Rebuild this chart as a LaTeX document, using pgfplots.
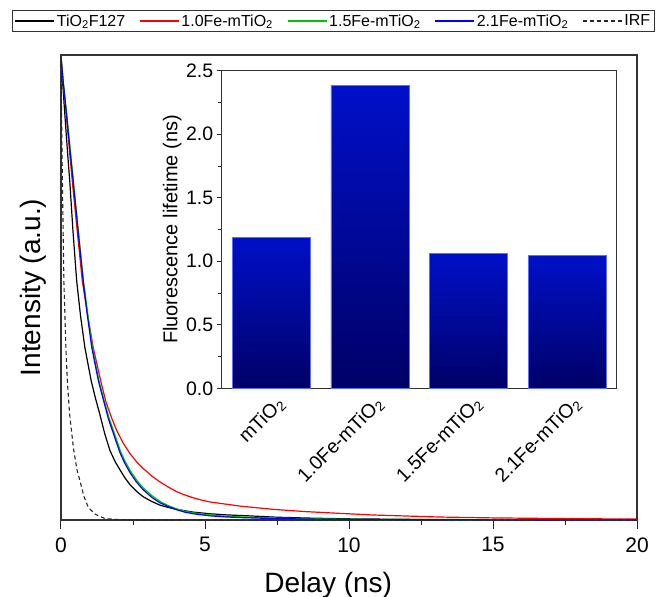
\documentclass[border=0pt]{standalone}
\usepackage{fontspec}
\setmainfont{Liberation Sans}
\usepackage{pgfplots}
\pgfplotsset{compat=1.18}
\usetikzlibrary{calc}
\definecolor{barTop}{RGB}{0,16,200}
\definecolor{barBot}{RGB}{0,0,102}
\definecolor{barEdge}{RGB}{90,110,255}
\definecolor{curveGreen}{RGB}{0,200,0}

\begin{document}
\begin{tikzpicture}
% main decay curves
\begin{axis}[
    name=main,
    scale only axis,
    width=576pt, height=465pt,
    xmin=0, xmax=20, ymin=0, ymax=1.004,
    xtick={0,5,...,20}, minor x tick num=1,
    ytick=\empty,
    xtick pos=bottom,
    tick align=outside,
    major tick length=9pt, minor tick length=5pt,
    tick style={line width=1pt, black!85},
    axis line style={line width=1.4pt, black!80},
    tick label style={font=\fontsize{21}{25}\selectfont},
    xticklabel style={yshift=-5pt},
    /pgf/number format/assume math mode=true,
    xlabel={Delay (ns)}, ylabel={Intensity (a.u.)},
    label style={font=\fontsize{28}{32}\selectfont},
    xlabel style={at={(axis description cs:0.464,-0.112)}, anchor=north, inner sep=0pt},
    ylabel style={at={(axis description cs:-0.026,0.5)}, anchor=south, inner sep=0pt},
    legend columns=-1,
    legend style={at={(axis description cs:0.473,1)}, anchor=south, yshift=23pt,
        draw=black!80, line width=0.8pt, font=\fontsize{16}{19}\selectfont,
        inner sep=2pt, /tikz/every even column/.append style={column sep=12pt}},
    legend image code/.code={\draw[#1] (0pt,0pt) -- (39pt,0pt);},
    every axis plot/.append style={line width=1.2pt},
]
\addplot[black] coordinates {
 (0,1) (0.05,0.95) (0.14,0.87) (0.22,0.80) (0.31,0.726) (0.42,0.62) (0.545,0.516)
 (0.68,0.44) (0.83,0.372) (1.05,0.30) (1.2,0.262) (1.35,0.228) (1.52,0.186) (1.70,0.150)
 (1.88,0.126) (2.05,0.108) (2.22,0.091) (2.40,0.076) (2.62,0.062) (2.86,0.050)
 (3.15,0.040) (3.44,0.032) (3.73,0.027) (4.02,0.023) (4.59,0.017) (5.17,0.0135)
 (5.75,0.011) (6.33,0.0095) (7.5,0.006) (8.7,0.004) (10,0.0025) (12.5,0.0012)
 (15,0.0006) (20,0.0002)
};
\addlegendentry{TiO\textsubscript{2}F127}
\addplot[red] coordinates {
 (0,1) (0.07,0.95) (0.19,0.87) (0.29,0.80) (0.40,0.726) (0.57,0.62) (0.74,0.516)
 (0.93,0.44) (1.12,0.372) (1.38,0.30) (1.56,0.255) (1.76,0.220) (1.93,0.194)
 (2.15,0.167) (2.40,0.143) (2.62,0.126) (2.86,0.111) (3.15,0.095) (3.44,0.082)
 (3.73,0.071) (4.02,0.061) (4.3,0.054) (4.59,0.048) (4.88,0.043) (5.17,0.039)
 (5.75,0.034) (6.22,0.030) (7.37,0.023) (8.53,0.018) (9.69,0.0143) (10.84,0.0108)
 (12.0,0.0086) (13.16,0.0064) (15,0.0045) (17.5,0.003) (20,0.002)
};
\addlegendentry{1.0Fe-mTiO\textsubscript{2}}
\addplot[curveGreen] coordinates {
 (0,1) (0.07,0.95) (0.21,0.87) (0.32,0.80) (0.44,0.726) (0.61,0.62) (0.78,0.516)
 (0.94,0.44) (1.09,0.372) (1.32,0.30) (1.49,0.26) (1.66,0.222) (1.87,0.184)
 (2.07,0.148) (2.24,0.125) (2.42,0.105) (2.64,0.085) (2.86,0.069) (3.15,0.053)
 (3.44,0.040) (3.73,0.031) (4.02,0.024) (4.3,0.019) (4.59,0.0155) (5.17,0.011)
 (5.75,0.008) (6.33,0.0065) (7.5,0.004) (10,0.0015) (15,0.0004) (20,0)
};
\addlegendentry{1.5Fe-mTiO\textsubscript{2}}
\addplot[blue] coordinates {
 (0,1) (0.07,0.95) (0.2,0.87) (0.31,0.80) (0.43,0.726) (0.6,0.62) (0.77,0.516)
 (0.92,0.44) (1.07,0.372) (1.3,0.30) (1.47,0.26) (1.64,0.22) (1.85,0.181)
 (2.05,0.145) (2.22,0.122) (2.40,0.102) (2.62,0.082) (2.86,0.065) (3.15,0.049)
 (3.44,0.037) (3.73,0.029) (4.02,0.022) (4.3,0.017) (4.59,0.0135) (5.17,0.009)
 (5.75,0.0065) (6.33,0.005) (7.5,0.003) (10,0.001) (15,0.0003) (20,0)
};
\addlegendentry{2.1Fe-mTiO\textsubscript{2}}
\addplot[black!85, line width=1.1pt, dash pattern=on 4pt off 3pt] coordinates {
 (0,1) (0.02,0.87) (0.05,0.726) (0.1,0.516) (0.17,0.372) (0.22,0.30) (0.30,0.228)
 (0.43,0.156) (0.55,0.11) (0.66,0.084) (0.8,0.05) (0.95,0.027) (1.2,0.012)
 (1.53,0.003) (2.0,0.001) (2.5,0) (20,0)
};
\addlegendentry{IRF}
\end{axis}

% inset: fluorescence lifetime bars
\begin{axis}[
    at={($(main.south west)+(160.7pt,131.7pt)$)}, anchor=south west,
    scale only axis,
    width=395pt, height=317.6pt,
    xmin=-0.5, xmax=3.5, ymin=0, ymax=2.5,
    xtick={0,1,2,3},
    xticklabels={mTiO\textsubscript{2}, 1.0Fe-mTiO\textsubscript{2}, 1.5Fe-mTiO\textsubscript{2}, 2.1Fe-mTiO\textsubscript{2}},
    x tick style={draw=none},
    xticklabel style={rotate=45, anchor=east, xshift=5.7pt, yshift=-12.7pt},
    ytick={0,0.5,...,2.5}, minor y tick num=1,
    ytick pos=left,
    tick align=outside,
    major tick length=5pt, minor tick length=3.5pt,
    tick style={line width=0.9pt, black!85},
    axis line style={line width=1pt, black!80},
    tick label style={font=\fontsize{19.5}{23}\selectfont},
    /pgf/number format/assume math mode=true,
    y tick label style={/pgf/number format/.cd, fixed, fixed zerofill, precision=1},
    ylabel={Fluorescence lifetime (ns)},
    ylabel style={font=\fontsize{20}{24}\selectfont, at={(axis description cs:-0.101,0.5)}, anchor=south, inner sep=0pt},
    axis background/.style={fill=white},
]
\addplot[ybar, bar width=0.79, bar shift=0pt, top color=barTop, bottom color=barBot, draw=barEdge, line width=0.6pt] coordinates {(0,1.19)};
\addplot[ybar, bar width=0.79, bar shift=0pt, top color=barTop, bottom color=barBot, draw=barEdge, line width=0.6pt] coordinates {(1,2.385)};
\addplot[ybar, bar width=0.79, bar shift=0pt, top color=barTop, bottom color=barBot, draw=barEdge, line width=0.6pt] coordinates {(2,1.061)};
\addplot[ybar, bar width=0.79, bar shift=0pt, top color=barTop, bottom color=barBot, draw=barEdge, line width=0.6pt] coordinates {(3,1.048)};
\end{axis}

\pgfresetboundingbox
\path ($(main.south west)+(-61pt,-77pt)$) rectangle ++(664pt,597pt);
\end{tikzpicture}
\end{document}
